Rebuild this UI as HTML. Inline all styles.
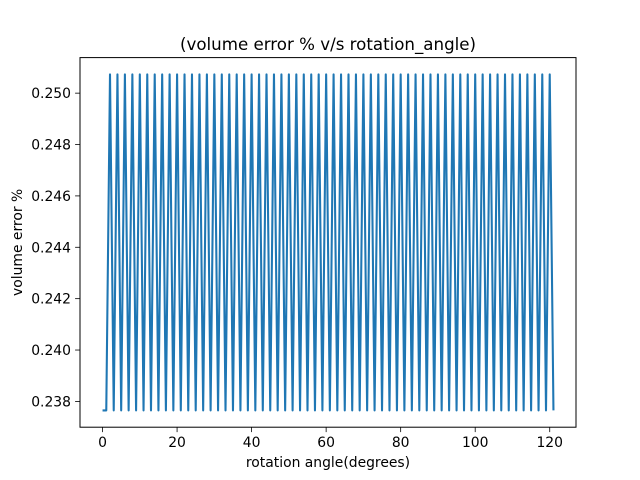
<!DOCTYPE html>
<html><head><meta charset="utf-8"><style>
html,body{margin:0;padding:0;background:#fff;}
svg{display:block;font-family:"DejaVu Sans","Liberation Sans",sans-serif;}
</style></head><body>
<svg id="chart" width="640" height="480" viewBox="0 0 640 480">
<rect width="640" height="480" fill="#fff"/>
<text x="328" y="50" font-size="16.67" text-anchor="middle">(volume error % v/s rotation_angle)</text>
<g id="plot"></g>
<rect x="80" y="57.6" width="496" height="369.6" fill="none" stroke="#000" stroke-width="1"/>
<text x="328" y="467" font-size="13.9" text-anchor="middle">rotation angle(degrees)</text>
<text transform="translate(22,242.4) rotate(-90)" font-size="13.9" text-anchor="middle">volume error %</text>
</svg>
<script>
const xTicks = [0, 20, 40, 60, 80, 100, 120];
const yTicks = [0.238, 0.240, 0.242, 0.244, 0.246, 0.248, 0.250];
const yTickLabels = ["0.238","0.240","0.242","0.244","0.246","0.248","0.250"];
const angles = [];
for (let i = 0; i <= 121; i++) angles.push(i);
const volumeError = [0.23765,0.23765,
0.25073,0.23765,0.25073,0.23765,0.25073,0.23765,0.25073,0.23765,0.25073,0.23765,
0.25073,0.23765,0.25073,0.23765,0.25073,0.23765,0.25073,0.23765,0.25073,0.23765,
0.25073,0.23765,0.25073,0.23765,0.25073,0.23765,0.25073,0.23765,0.25073,0.23765,
0.25073,0.23765,0.25073,0.23765,0.25073,0.23765,0.25073,0.23765,0.25073,0.23765,
0.25073,0.23765,0.25073,0.23765,0.25073,0.23765,0.25073,0.23765,0.25073,0.23765,
0.25073,0.23765,0.25073,0.23765,0.25073,0.23765,0.25073,0.23765,0.25073,0.23765,
0.25073,0.23765,0.25073,0.23765,0.25073,0.23765,0.25073,0.23765,0.25073,0.23765,
0.25073,0.23765,0.25073,0.23765,0.25073,0.23765,0.25073,0.23765,0.25073,0.23765,
0.25073,0.23765,0.25073,0.23765,0.25073,0.23765,0.25073,0.23765,0.25073,0.23765,
0.25073,0.23765,0.25073,0.23765,0.25073,0.23765,0.25073,0.23765,0.25073,0.23765,
0.25073,0.23765,0.25073,0.23765,0.25073,0.23765,0.25073,0.23765,0.25073,0.23765,
0.25073,0.23765,0.25073,0.23765,0.25073,0.23765,0.25073,0.23765,0.25073,0.23765];

const L=80,R=576,T=57.6,B=427.2;
const xmin0=Math.min(...angles), xmax0=Math.max(...angles);
const ymin0=Math.min(...volumeError), ymax0=Math.max(...volumeError);
const xm=(xmax0-xmin0)*0.05, ym=(ymax0-ymin0)*0.05;
const xmin=xmin0-xm, xmax=xmax0+xm, ymin=ymin0-ym, ymax=ymax0+ym;
const sx=v=>L+(v-xmin)/(xmax-xmin)*(R-L);
const sy=v=>B-(v-ymin)/(ymax-ymin)*(B-T);
const NS="http://www.w3.org/2000/svg";
const g=document.getElementById('plot');
function mk(t,a){const e=document.createElementNS(NS,t);for(const k in a)e.setAttribute(k,a[k]);g.appendChild(e);return e;}
xTicks.forEach(v=>{
  const x=sx(v);
  const tk=mk('line',{x1:x,x2:x,y1:B,y2:B+4.9,stroke:'#000','stroke-width':0.8});
  
  
  const t=mk('text',{x:x,y:B+20,'font-size':13.9,'text-anchor':'middle'});
  t.textContent=String(v);
  
  
});
yTicks.forEach((v,i)=>{
  const y=sy(v);
  const tk=mk('line',{x1:L-4.9,x2:L,y1:y,y2:y,stroke:'#000','stroke-width':0.8});
  
  
  const t=mk('text',{x:L-9,y:y+5,'font-size':13.9,'text-anchor':'end'});
  t.textContent=yTickLabels[i];
  
  
});
const pts=angles.map((a,i)=>sx(a).toFixed(2)+','+sy(volumeError[i]).toFixed(2)).join(' ');
const line=mk('polyline',{points:pts,fill:'none',stroke:'#1f77b4','stroke-width':2.08,'stroke-linejoin':'round'});


</script>
</body></html>
